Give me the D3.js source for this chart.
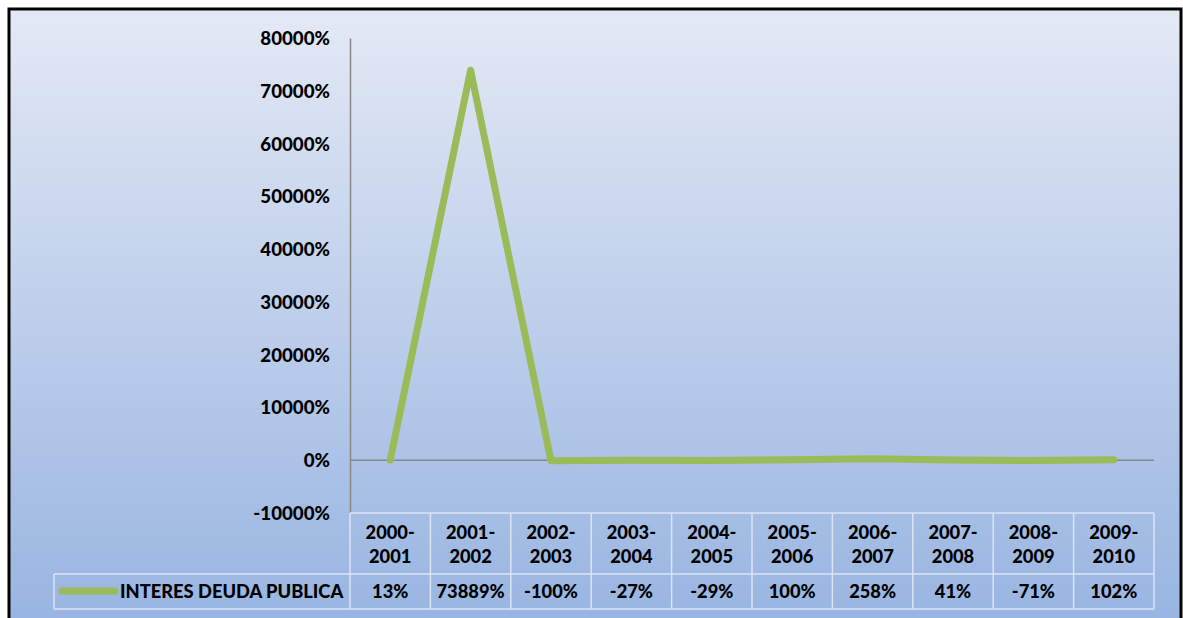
<!DOCTYPE html>
<html>
<head>
<meta charset="utf-8">
<script src="https://cdn.jsdelivr.net/npm/d3@7"></script>
<style>
html,body{margin:0;padding:0;background:#fff;}
svg{display:block;}
text{font-family:"Lato","Liberation Sans",sans-serif;font-weight:bold;fill:#000;}
</style>
</head>
<body>
<svg id="chart" width="1183" height="618"></svg>
<script>
const categories = ["2000-2001","2001-2002","2002-2003","2003-2004","2004-2005","2005-2006","2006-2007","2007-2008","2008-2009","2009-2010"];
const seriesName = "INTERES DEUDA PUBLICA";
const values = [13, 73889, -100, -27, -29, 100, 258, 41, -71, 102];
const yTicks = [-10000, 0, 10000, 20000, 30000, 40000, 50000, 60000, 70000, 80000];

const svg = d3.select("#chart");
const defs = svg.append("defs");
const grad = defs.append("linearGradient").attr("id","bg").attr("x1",0).attr("y1",0).attr("x2",0).attr("y2",1);
grad.append("stop").attr("offset","0%").attr("stop-color","#e4e9f5");
grad.append("stop").attr("offset","100%").attr("stop-color","#97b4e1");

svg.append("rect").attr("x",9).attr("y",9).attr("width",1172).attr("height",620)
  .attr("fill","url(#bg)").attr("stroke","#000").attr("stroke-width",3);

const x = d3.scaleBand().domain(categories).range([350,1154]).padding(0);
const y = d3.scaleLinear().domain([-10000,80000]).range([513,38]);

// y axis
const yAxis = d3.axisLeft(y).tickValues(yTicks).tickSize(0).tickPadding(20).tickFormat(d => d + "%");
const gy = svg.append("g").attr("transform","translate(350,0)").call(yAxis);
gy.select(".domain").attr("stroke","#888").attr("stroke-width",1.5);
gy.selectAll("text").style("font-size","18.7px").style("font-weight","900").attr("fill","#000").attr("dy","0.35em");

// zero line
svg.append("line").attr("x1",350).attr("x2",1154).attr("y1",y(0)).attr("y2",y(0))
  .attr("stroke","#888").attr("stroke-width",1.5);

// series line
const line = d3.line().x((d,i)=>x(categories[i])+x.bandwidth()/2).y(d=>y(d));
svg.append("path").datum(values).attr("d",line).attr("fill","none")
  .attr("stroke","#9bbb59").attr("stroke-width",7).attr("stroke-linecap","round").attr("stroke-linejoin","round");

// data table
const tTop = 513, tMid = 574, tBot = 609, legLeft = 54;
const gridC = "#dbe4f3";
const fs = "18.3px";
const tg = svg.append("g");
tg.append("line").attr("x1",350).attr("x2",1154).attr("y1",tTop).attr("y2",tTop).attr("stroke",gridC).attr("stroke-width",1.5);
tg.append("line").attr("x1",legLeft).attr("x2",1154).attr("y1",tMid).attr("y2",tMid).attr("stroke",gridC).attr("stroke-width",1.5);
tg.append("line").attr("x1",legLeft).attr("x2",1154).attr("y1",tBot).attr("y2",tBot).attr("stroke",gridC).attr("stroke-width",1.5);
tg.append("line").attr("x1",legLeft).attr("x2",legLeft).attr("y1",tMid).attr("y2",tBot).attr("stroke",gridC).attr("stroke-width",1.5);
const edges = categories.map(c=>x(c)).concat([x.range()[1]]);
edges.forEach(e=>{
  tg.append("line").attr("x1",e).attr("x2",e).attr("y1",tTop).attr("y2",tBot).attr("stroke",gridC).attr("stroke-width",1.5);
});
categories.forEach(c=>{
  const [a,b] = c.split("-");
  const cx = x(c)+x.bandwidth()/2;
  const t = tg.append("text").attr("text-anchor","middle").style("font-size",fs).style("font-weight","900");
  t.append("tspan").attr("x",cx).attr("y",539).text(a+"-");
  t.append("tspan").attr("x",cx).attr("y",563).text(b);
});
values.forEach((v,i)=>{
  const cx = x(categories[i])+x.bandwidth()/2;
  tg.append("text").attr("x",cx).attr("y",598).attr("text-anchor","middle").style("font-size",fs).style("font-weight","900").text(v+"%");
});
tg.append("line").attr("x1",62).attr("x2",115).attr("y1",591).attr("y2",591)
  .attr("stroke","#9bbb59").attr("stroke-width",7).attr("stroke-linecap","round");
tg.append("text").attr("x",120).attr("y",598).style("font-size",fs).style("font-weight","900").text(seriesName);
</script>
</body>
</html>
